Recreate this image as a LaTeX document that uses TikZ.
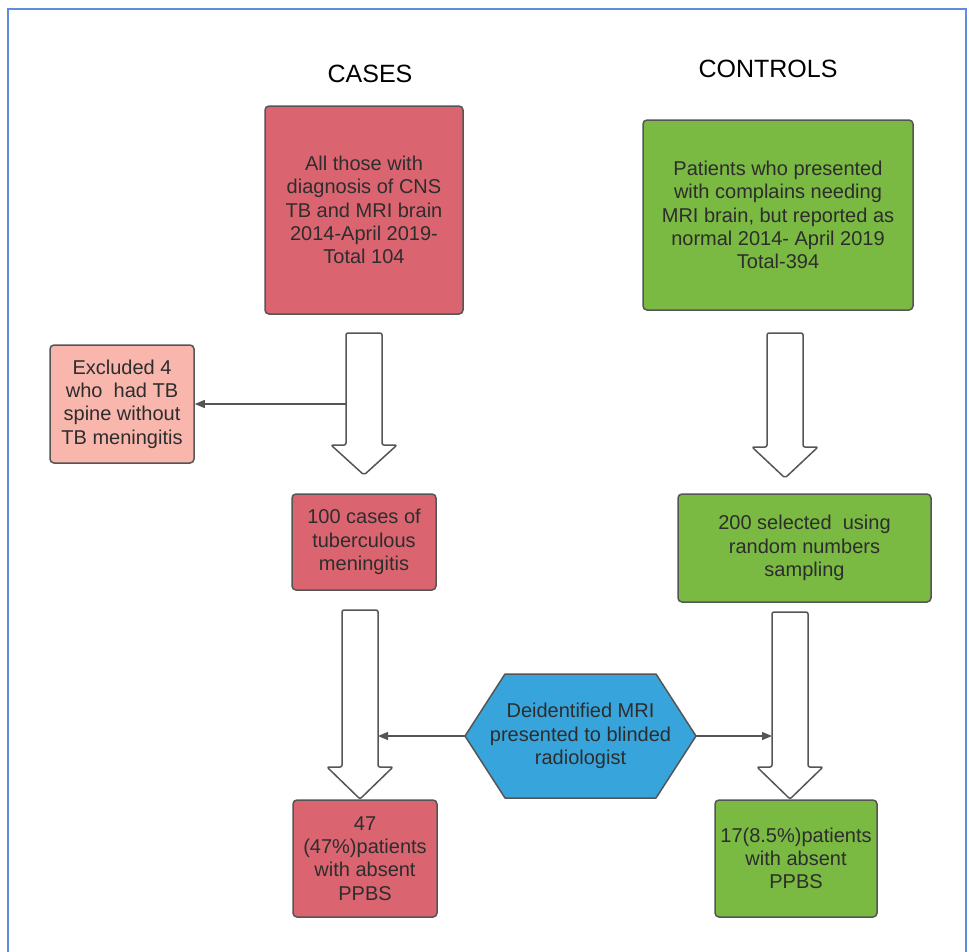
\documentclass[tikz,border=0pt]{standalone}
\usepackage{fontspec}
\setmainfont{Liberation Sans}
\usetikzlibrary{arrows.meta}
\definecolor{casered}{RGB}{218,101,112}
\definecolor{excpink}{RGB}{248,182,173}
\definecolor{ctrlgreen}{RGB}{122,185,66}
\definecolor{hexblue}{RGB}{56,164,220}
\definecolor{framebl}{RGB}{95,140,220}
\definecolor{edgegray}{RGB}{85,85,85}
\definecolor{txtgray}{RGB}{45,45,45}
\tikzset{
  box/.style={draw=edgegray, line width=1.5pt, rounded corners=4pt, align=center,
    text=txtgray, inner sep=0pt, font=\fontsize{20}{23.3}\selectfont},
  redbox/.style={box, fill=casered},
  pinkbox/.style={box, fill=excpink},
  greenbox/.style={box, fill=ctrlgreen},
  title/.style={font=\fontsize{25}{30}\selectfont, text=black},
  blockarr/.style={draw=edgegray, line width=1.5pt, fill=white, line join=round, rounded corners=2pt},
  conn/.style={draw=edgegray, line width=1.2pt, -{Triangle[length=10pt,width=8pt]}},
}
\newcommand\blockarrow[4]{% center x, top y, head base y, tip y
  \draw[blockarr] ({#1-18},#2) -- ({#1+18},#2) -- ({#1+18},#3) -- ({#1+33},#3)
    -- (#1,#4) -- ({#1-33},#3) -- ({#1-18},#3) -- cycle;}
\begin{document}
\begin{tikzpicture}[x=1pt,y=-1pt]
\useasboundingbox (0,0) rectangle (969,951);
\fill[white] (0,0) rectangle (969,951);
\draw[framebl, line width=2.5pt] (8,980) -- (8,9) -- (966,9) -- (966,980);

\node[title] (tcases) at (370,74) {CASES};
\node[title] (tctrl) at (768,69) {CONTROLS};

\node[redbox, minimum width=198pt, minimum height=208pt] (b1) at (364,210)
  {All those with\\diagnosis of CNS\\TB and MRI brain\\2014-April 2019-\\Total 104};
\node[greenbox, minimum width=270pt, minimum height=190pt] (b2) at (778,215)
  {Patients who presented\\with complains needing\\MRI brain, but reported as\\normal 2014- April 2019\\Total-394};

\blockarrow{364}{333}{445}{475}
\blockarrow{785}{333}{447}{478}

\coordinate (a1left) at (346,404);
\node[pinkbox, minimum width=144pt, minimum height=118pt] (excl) at (122,404)
  {Excluded 4\\who\ \ had TB\\spine without\\TB meningitis};
\draw[conn] (a1left) -- (excl.east);

\node[redbox, minimum width=144pt, minimum height=96pt] (b3) at (364,542)
  {100 cases of\\tuberculous\\meningitis};
\node[greenbox, minimum width=253pt, minimum height=108pt] (b4) at (804.5,548)
  {200 selected\ \ using\\random numbers\\sampling};

\blockarrow{360}{610}{767}{799}
\blockarrow{790}{612}{767}{799}

\node[redbox, minimum width=144pt, minimum height=117pt] (b5) at (365,858.5)
  {47\\(47\%)patients\\with absent\\PPBS};
\node[greenbox, minimum width=162pt, minimum height=117pt] (b6) at (796,858.5)
  {17(8.5\%)patients\\with absent\\PPBS};

\coordinate (hexL) at (465,736);
\coordinate (hexR) at (696,736);
\draw[draw=edgegray, line width=1.5pt, fill=hexblue, line join=round]
  (hexL) -- (505,674) -- (656,674) -- (hexR) -- (656,798) -- (505,798) -- cycle;
\node[align=center, text=txtgray, font=\fontsize{20}{23.3}\selectfont] (hex) at (580.5,736)
  {Deidentified MRI\\presented to blinded\\radiologist};
\coordinate (a3right) at (378,736);
\coordinate (a4left) at (772,736);
\draw[conn] (hexL) -- (a3right);
\draw[conn] (hexR) -- (a4left);
\end{tikzpicture}
\end{document}
